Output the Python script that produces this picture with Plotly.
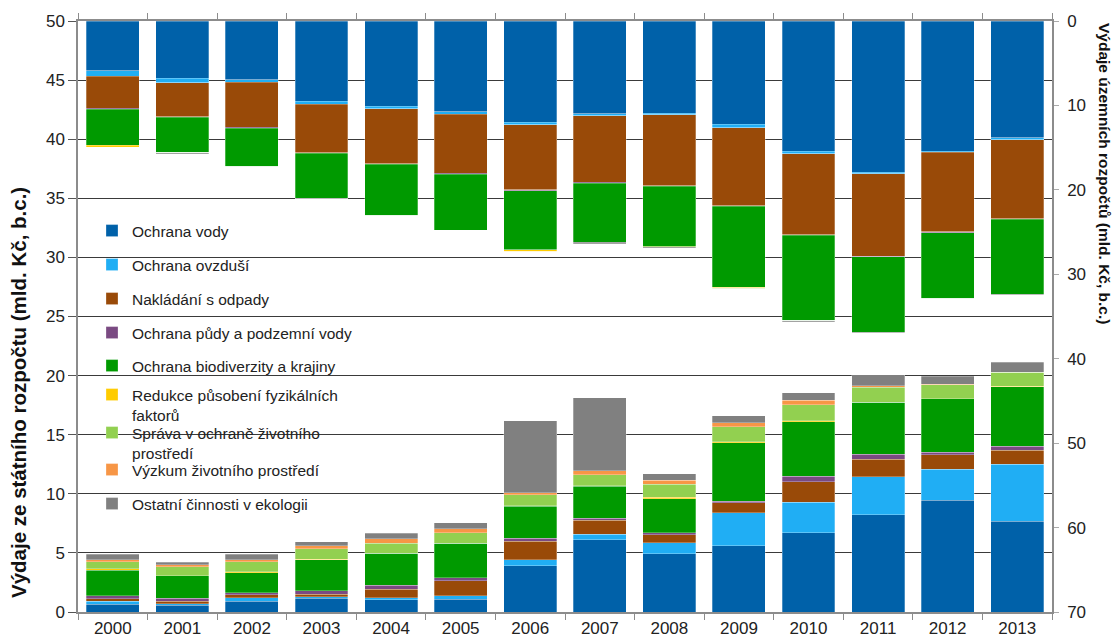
import plotly.graph_objects as go

years = ["2000", "2001", "2002", "2003", "2004", "2005", "2006",
         "2007", "2008", "2009", "2010", "2011", "2012", "2013"]

series_names = [
    "Ochrana vody",
    "Ochrana ovzduší",
    "Nakládání s odpady",
    "Ochrana půdy a podzemní vody",
    "Ochrana biodiverzity a krajiny",
    "Redukce působení fyzikálních<br>faktorů",
    "Správa v ochraně životního<br>prostředí",
    "Výzkum životního prostředí",
    "Ostatní činnosti v ekologii",
]
series_colors = ["#0061A9", "#20AEF4", "#994A08", "#7A4A82", "#009A00",
                 "#FFCC00", "#92D050", "#F79646", "#808080"]

# State budget (left axis, bars from the bottom), bn CZK
state_voda = [0.65, 0.57, 0.93, 1.16, 1.02, 1.10, 3.90, 6.10, 4.94, 5.62, 6.70, 8.23, 9.45, 7.66]
state_ovzdusi = [0.28, 0.11, 0.26, 0.14, 0.19, 0.26, 0.53, 0.48, 0.91, 2.78, 2.60, 3.20, 2.64, 4.82]
state_odpady = [0.20, 0.25, 0.25, 0.20, 0.71, 1.27, 1.56, 1.19, 0.68, 0.85, 1.70, 1.48, 1.21, 1.22]
state_puda = [0.23, 0.23, 0.17, 0.28, 0.34, 0.25, 0.26, 0.17, 0.16, 0.11, 0.49, 0.45, 0.23, 0.34]
state_biodiv = [2.17, 1.89, 1.70, 2.65, 2.69, 2.93, 2.71, 2.71, 2.91, 4.96, 4.62, 4.37, 4.51, 5.02]
state_fyzik = [0.11, 0.03, 0.08, 0.02, 0.02, 0.02, 0.02, 0.02, 0.09, 0.09, 0.09, 0.02, 0.02, 0.02]
state_sprava = [0.62, 0.73, 0.87, 0.91, 0.86, 0.86, 0.94, 0.94, 1.13, 1.28, 1.33, 1.25, 1.17, 1.20]
state_vyzkum = [0.17, 0.17, 0.17, 0.23, 0.36, 0.34, 0.16, 0.34, 0.31, 0.34, 0.37, 0.15, 0.02, 0.02]
state_ostatni = [0.46, 0.23, 0.46, 0.34, 0.48, 0.54, 6.10, 6.19, 0.56, 0.57, 0.65, 0.94, 0.68, 0.82]

# Territorial budgets (right reversed axis, bars hanging from the top), bn CZK
terr_voda = [5.90, 6.77, 6.97, 9.52, 10.07, 10.74, 12.00, 11.00, 10.90, 12.20, 15.43, 17.90, 15.43, 13.81]
terr_ovzdusi = [0.63, 0.55, 0.31, 0.36, 0.32, 0.32, 0.31, 0.20, 0.20, 0.47, 0.31, 0.20, 0.12, 0.24]
terr_odpady = [3.80, 4.00, 5.30, 5.70, 6.50, 7.00, 7.70, 7.90, 8.40, 9.20, 9.55, 9.75, 9.40, 9.35]
terr_puda = [0.10, 0.10, 0.10, 0.10, 0.10, 0.10, 0.10, 0.10, 0.10, 0.05, 0.10, 0.10, 0.15, 0.10]
terr_biodiv = [4.30, 4.20, 4.60, 5.30, 6.10, 6.60, 7.00, 7.00, 7.10, 9.60, 10.10, 8.90, 7.80, 8.85]
terr_fyzik = [0.20, 0.00, 0.00, 0.00, 0.00, 0.00, 0.20, 0.00, 0.00, 0.05, 0.00, 0.00, 0.00, 0.00]
terr_sprava = [0.00, 0.00, 0.00, 0.00, 0.00, 0.00, 0.00, 0.00, 0.10, 0.15, 0.00, 0.00, 0.00, 0.00]
terr_vyzkum = [0.00, 0.00, 0.00, 0.00, 0.00, 0.00, 0.00, 0.00, 0.00, 0.00, 0.00, 0.00, 0.00, 0.00]
terr_ostatni = [0.05, 0.10, 0.05, 0.05, 0.05, 0.05, 0.05, 0.20, 0.10, 0.00, 0.15, 0.05, 0.05, 0.05]

state_series = [state_voda, state_ovzdusi, state_odpady, state_puda, state_biodiv,
                state_fyzik, state_sprava, state_vyzkum, state_ostatni]
terr_series = [terr_voda, terr_ovzdusi, terr_odpady, terr_puda, terr_biodiv,
               terr_fyzik, terr_sprava, terr_vyzkum, terr_ostatni]

left_title = "Výdaje ze státního rozpočtu (mld. Kč, b.c.)"
right_title = "Výdaje územních rozpočtů (mld. Kč, b.c.)"

FONT = "Arial, Liberation Sans, sans-serif"
edge = dict(color="rgba(255,255,255,0.35)", width=0.8)

# layout: plot area in pixels
W, H = 1120, 641
ML, MR, MT, MB = 78, 68, 21, 29
plot_h = H - MT - MB

# legend entries: pixel row centres of first text line (one legend box per entry)
legend_rows_px = [231, 265, 299, 333, 366, 395, 433, 470, 504]
legend_keys = ["legend"] + [f"legend{k}" for k in range(2, 10)]

fig = go.Figure()
for i, (name, col) in enumerate(zip(series_names, series_colors)):
    fig.add_trace(go.Bar(
        x=years, y=state_series[i], name=name, marker=dict(color=col, line=edge),
        legendgroup=f"g{i}", legend=legend_keys[i], showlegend=True, yaxis="y",
    ))
for i, (name, col) in enumerate(zip(series_names, series_colors)):
    fig.add_trace(go.Bar(
        x=years, y=terr_series[i], name=name, marker=dict(color=col, line=edge),
        legendgroup=f"g{i}", legend=legend_keys[i], showlegend=False, yaxis="y2",
    ))

legend_layouts = {}
for key, cy in zip(legend_keys, legend_rows_px):
    top_px = cy - 17 - MT
    legend_layouts[key] = dict(
        x=0.0144, y=1 - top_px / plot_h, xanchor="left", yanchor="top",
        font=dict(family=FONT, size=15.5, color="#222"),
        bgcolor="rgba(0,0,0,0)", itemwidth=30, valign="top",
    )

fig.update_layout(
    width=W, height=H,
    margin=dict(l=ML, r=MR, t=MT, b=MB, autoexpand=False),
    paper_bgcolor="white", plot_bgcolor="white",
    barmode="stack", bargap=0.24,
    font=dict(family=FONT, size=17, color="#222"),
    showlegend=True,
    xaxis=dict(
        type="category", showline=True, linecolor="#8c8c8c", linewidth=1.5,
        mirror="ticks", ticks="outside", tickson="boundaries", ticklen=6,
        tickcolor="#8c8c8c", showgrid=False, automargin=False,
        tickfont=dict(family=FONT, size=17, color="#222"),
    ),
    yaxis=dict(
        range=[0, 50], dtick=5, showgrid=True, gridcolor="#3a3a3a", gridwidth=1,
        showline=True, linecolor="#8c8c8c", linewidth=1.5, ticks="outside",
        ticklen=8, tickcolor="#555555", zeroline=False, automargin=False,
        tickfont=dict(family=FONT, size=17, color="#222"),
    ),
    yaxis2=dict(
        range=[70, 0], dtick=10, overlaying="y", side="right", showgrid=False,
        showline=True, linecolor="#8c8c8c", linewidth=1.5, ticks="outside",
        ticklen=5, tickcolor="#aaaaaa", zeroline=False, automargin=False,
        ticklabelstandoff=5,
        tickfont=dict(family=FONT, size=17, color="#222"),
    ),
    annotations=[
        dict(text=f"<b>{left_title}</b>", xref="paper", yref="paper",
             x=(18 - ML) / (W - ML - MR), y=(H - MB - 393) / plot_h,
             xanchor="center", yanchor="middle",
             textangle=-90, showarrow=False,
             font=dict(family=FONT, size=20.5, color="#111")),
        dict(text=f"<b>{right_title}</b>", xref="paper", yref="paper",
             x=(1105 - ML) / (W - ML - MR), y=(H - MB - 173) / plot_h,
             xanchor="center", yanchor="middle",
             textangle=90, showarrow=False,
             font=dict(family=FONT, size=15.5, color="#111")),
    ],
    **legend_layouts,
)

fig.write_html(
    "out.html",
    config={"displayModeBar": False},
    post_script="document.body.style.margin='0px';document.body.style.overflow='hidden';",
)
